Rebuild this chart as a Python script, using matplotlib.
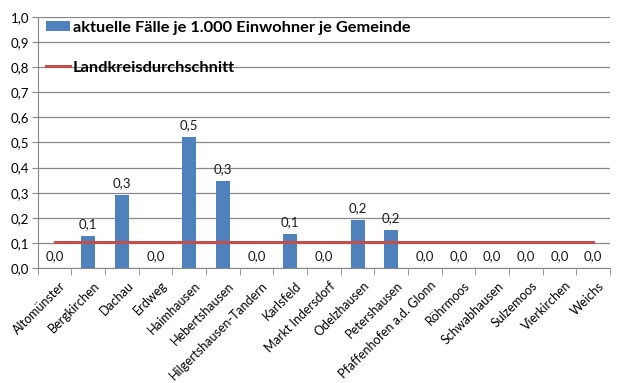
import matplotlib
matplotlib.use("Agg")
import matplotlib.pyplot as plt
import numpy as np

plt.rcParams["font.family"] = ["Lato", "DejaVu Sans"]

gemeinden = [
    "Altomünster", "Bergkirchen", "Dachau", "Erdweg", "Haimhausen",
    "Hebertshausen", "Hilgertshausen-Tandern", "Karlsfeld", "Markt Indersdorf",
    "Odelzhausen", "Petershausen", "Pfaffenhofen a.d. Glonn", "Röhrmoos",
    "Schwabhausen", "Sulzemoos", "Vierkirchen", "Weichs",
]
faelle = [0.0, 0.127, 0.292, 0.0, 0.522, 0.347, 0.0, 0.135, 0.0,
          0.192, 0.151, 0.0, 0.0, 0.0, 0.0, 0.0, 0.0]
landkreis = 0.104

bar_color = "#4F81BD"
line_color = "#C0504D"

fig = plt.figure(figsize=(6.2, 3.83), dpi=100)
ax = fig.add_axes([0.061, 0.300, 0.923, 0.656])

x = np.arange(len(gemeinden))

bars = ax.bar(x, faelle, width=0.42, color=bar_color, zorder=3,
              label="aktuelle Fälle je 1.000 Einwohner je Gemeinde")
line, = ax.plot(x, [landkreis] * len(x), color=line_color, linewidth=2.2,
                zorder=4, label="Landkreisdurchschnitt")

for xi, v in zip(x, faelle):
    ax.text(xi, v + 0.024, f"{v:.1f}".replace(".", ","), ha="center",
            va="bottom", fontsize=9.5, color="#1a1a1a", zorder=5)

ax.set_xlim(-0.5, len(x) - 0.5)
ax.set_ylim(0, 1.0)
yt = np.arange(0, 1.01, 0.1)
ax.set_yticks(yt)
ax.set_yticklabels([f"{t:.1f}".replace(".", ",") for t in yt], fontsize=9.5)
ax.set_xticks([])
ax.set_xticks(np.arange(-0.5, len(x) + 0.5, 1.0), minor=True)
ax.tick_params(axis="x", which="minor", length=5, color="#888888")
ax.tick_params(axis="y", length=4, color="#888888", pad=2)

for xi, name in zip(x, gemeinden):
    ax.text(xi + 0.15, -0.045, name, rotation=45, ha="right", va="top",
            fontsize=9, rotation_mode="anchor", clip_on=False)

ax.grid(axis="y", color="#888888", linewidth=0.9, zorder=0)
for side in ["top", "right"]:
    ax.spines[side].set_visible(False)
ax.spines["left"].set_color("#888888")
ax.spines["bottom"].set_color("#888888")

ax.legend([bars, line],
          ["aktuelle Fälle je 1.000 Einwohner je Gemeinde", "Landkreisdurchschnitt"],
          loc="upper left", bbox_to_anchor=(0.014, 0.985), frameon=False,
          prop={"weight": "bold", "size": 11.8}, labelspacing=1.6,
          handlelength=1.46, handleheight=0.6, handletextpad=0.2,
          borderpad=0, borderaxespad=0)

fig.savefig("out.png", dpi=100)
